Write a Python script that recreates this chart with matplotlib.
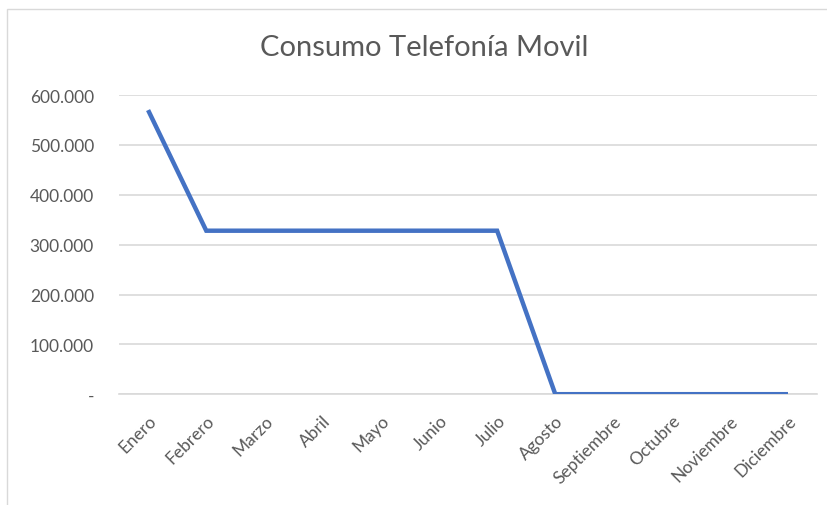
import matplotlib
matplotlib.use("Agg")
import matplotlib.pyplot as plt
from matplotlib.ticker import FuncFormatter
from matplotlib.patches import Rectangle

meses = ["Enero", "Febrero", "Marzo", "Abril", "Mayo", "Junio", "Julio",
         "Agosto", "Septiembre", "Octubre", "Noviembre", "Diciembre"]
consumo = [570000, 328000, 328000, 328000, 328000, 328000, 328000,
           0, 0, 0, 0, 0]
y_ticks = [0, 100000, 200000, 300000, 400000, 500000, 600000]

plt.rcParams['font.family'] = ['Lato', 'DejaVu Sans']
text_color = "#595959"

fig = plt.figure(figsize=(8.27, 5.06), dpi=100)
fig.patches.append(Rectangle((0.009, -0.1), 1.2, 1.08, transform=fig.transFigure,
                             fill=False, edgecolor="#D9D9D9", linewidth=1))
ax = fig.add_axes([0.1439, 0.219, 0.8441, 0.591])

x = list(range(len(meses)))
ax.plot(x, consumo, color="#4472C4", linewidth=3.2, solid_capstyle="butt",
        solid_joinstyle="miter", zorder=3)

ax.set_xlim(-0.5, len(meses) - 0.5)
ax.set_ylim(0, 600000)
ax.set_yticks(y_ticks)

def fmt(v, pos):
    if v == 0:
        return "-"
    return f"{int(v):,}".replace(",", ".")

ax.yaxis.set_major_formatter(FuncFormatter(fmt))
ax.set_xticks(x)
ax.set_xticklabels(meses, rotation=45, ha="right", rotation_mode="anchor",
                   color=text_color, fontsize=12.5)
ax.tick_params(axis="x", length=0, pad=13)
ax.tick_params(axis="y", length=0, pad=18, labelsize=12.5, labelcolor=text_color)

ax.grid(axis="y", color="#D9D9D9", linewidth=1.2)
ax.set_axisbelow(True)
for s in ax.spines.values():
    s.set_visible(False)
ax.spines["bottom"].set_visible(True)
ax.spines["bottom"].set_color("#D9D9D9")
ax.spines["bottom"].set_linewidth(1.2)

fig.text(0.513, 0.905, "Consumo Telefonía Movil", ha="center", va="center",
         fontsize=21, color=text_color)

fig.savefig("out.png", dpi=100)
